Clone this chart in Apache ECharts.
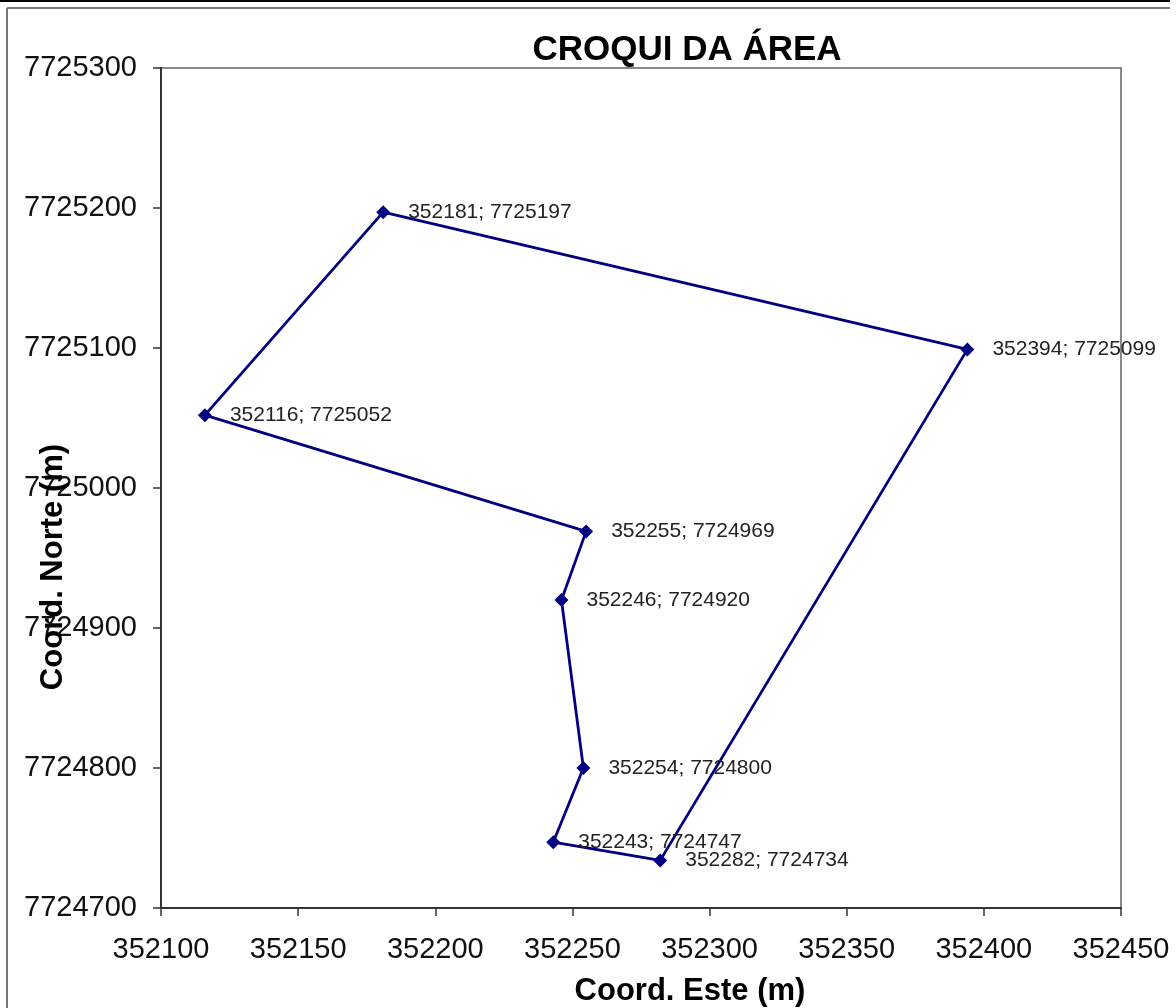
<!DOCTYPE html>
<html>
<head>
<meta charset="utf-8">
<script src="https://cdn.jsdelivr.net/npm/echarts@6/dist/echarts.min.js"></script>
<style>
html,body{margin:0;padding:0;background:#fff;}
#chart{width:1176px;height:1008px;}
</style>
</head>
<body>
<div id="chart"></div>
<script>
// Polygon vertices (order of traversal)
var eastings  = [352181, 352394, 352282, 352243, 352254, 352246, 352255, 352116];
var northings = [7725197, 7725099, 7724734, 7724747, 7724800, 7724920, 7724969, 7725052];
var xTicks = [352100, 352150, 352200, 352250, 352300, 352350, 352400, 352450];
var yTicks = [7724700, 7724800, 7724900, 7725000, 7725100, 7725200, 7725300];
var titleText = 'CROQUI DA ÁREA';
var xName = 'Coord. Este (m)';
var yName = 'Coord. Norte (m)';

var FONT = '"Liberation Sans", Arial, sans-serif';
var data = eastings.map(function (e, i) {
  return { value: [e, northings[i]], name: e + '; ' + northings[i] };
});
// close the polygon
data.push({ value: [eastings[0], northings[0]], symbol: 'none', label: { show: false } });

var chart = echarts.init(document.getElementById('chart'));
chart.setOption({
  animation: false,
  backgroundColor: '#fff',
  grid: { left: 161, top: 68, right: 55, bottom: 100, show: true, borderColor: '#888', borderWidth: 2, backgroundColor: 'transparent' },
  xAxis: {
    type: 'value', min: xTicks[0], max: xTicks[xTicks.length - 1], interval: 50,
    axisLine: { show: true, lineStyle: { color: '#333', width: 2 } },
    axisTick: { show: true, length: 8, lineStyle: { color: '#333', width: 1.5 } },
    splitLine: { show: false },
    axisLabel: { margin: 27, color: '#111', fontSize: 29, fontFamily: FONT, formatter: function (v) { return String(v); } }
  },
  yAxis: {
    type: 'value', min: yTicks[0], max: yTicks[yTicks.length - 1], interval: 100,
    axisLine: { show: true, lineStyle: { color: '#333', width: 2 } },
    axisTick: { show: true, length: 8, lineStyle: { color: '#333', width: 1.5 } },
    splitLine: { show: false },
    axisLabel: { margin: 24, color: '#111', fontSize: 29, fontFamily: FONT, formatter: function (v) { return String(v); } }
  },
  graphic: [
    { type: 'line', shape: { x1: 0, y1: 1, x2: 1170, y2: 1 }, style: { stroke: '#000', lineWidth: 2 }, z: 100 },
    { type: 'line', shape: { x1: 7, y1: 8, x2: 1170, y2: 8 }, style: { stroke: '#777', lineWidth: 2 }, z: 100 },
    { type: 'line', shape: { x1: 7, y1: 8, x2: 7, y2: 1008 }, style: { stroke: '#777', lineWidth: 2 }, z: 100 },
    { type: 'text', x: 687, y: 50, style: { text: titleText, font: 'bold 35px ' + FONT, fill: '#000', textAlign: 'center', textVerticalAlign: 'middle' }, z: 100 },
    { type: 'text', x: 690, y: 991, style: { text: xName, font: 'bold 31px ' + FONT, fill: '#000', textAlign: 'center', textVerticalAlign: 'middle' }, z: 100 },
    { type: 'text', x: 53, y: 567, rotation: Math.PI / 2, style: { text: yName, font: 'bold 31px ' + FONT, fill: '#000', textAlign: 'center', textVerticalAlign: 'middle' }, z: 100 }
  ],
  series: [{
    type: 'line',
    data: data,
    symbol: 'diamond',
    symbolSize: 14,
    showAllSymbol: true,
    lineStyle: { color: '#000080', width: 2.8 },
    itemStyle: { color: '#000080' },
    label: {
      show: true, position: 'right', distance: 18,
      color: '#222', fontSize: 21, fontFamily: FONT,
      formatter: function (p) { return p.name; }
    },
    labelLayout: { hideOverlap: false },
    z: 5
  }]
});
</script>
</body>
</html>
